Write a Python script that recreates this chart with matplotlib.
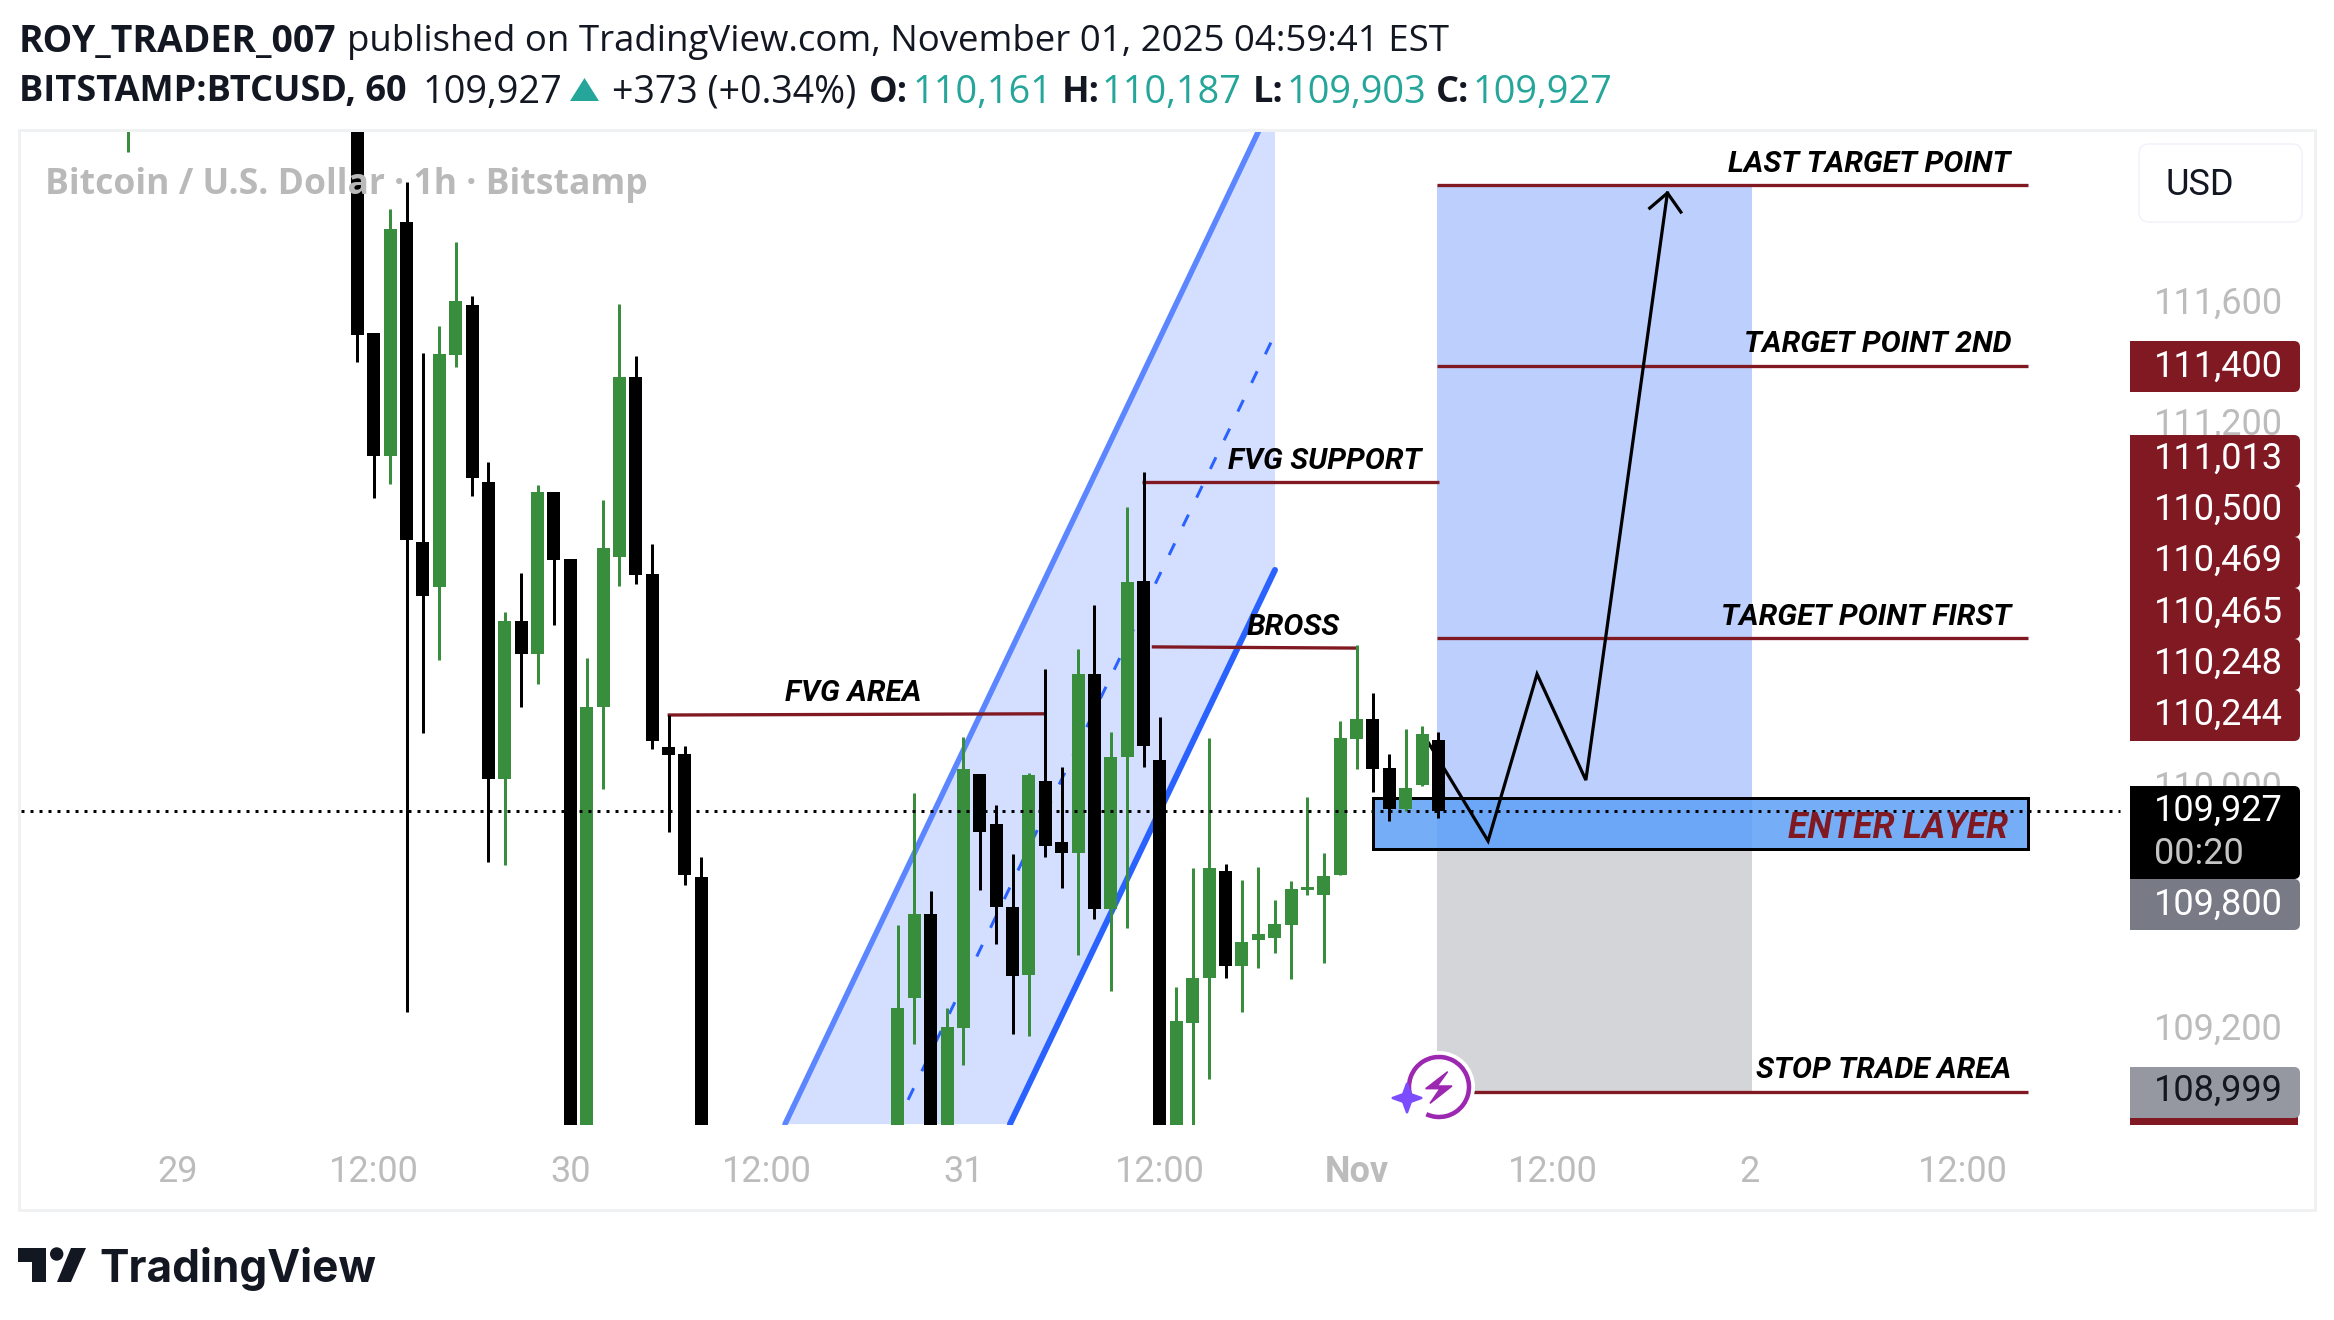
import matplotlib
matplotlib.use("Agg")
import matplotlib.pyplot as plt
from matplotlib.patches import Polygon, Rectangle, FancyBboxPatch, Circle, Arc
from matplotlib.transforms import ScaledTranslation

W, H = 2334, 1320
DPI = 100
GREEN = "#388e3c"
BLACK = "#000000"
RED = "#801922"
TEAL = "#26a69a"
INK = "#131722"
AXIS = "#bcbcbc"

# ---------- candles: hour offset from 30 Oct 00:00 ----------
hours = [-27, -13, -12, -11, -10, -9, -8, -7, -6, -5, -4, -3, -2, -1, 0, 1, 2, 3, 4, 5, 6, 7, 8,
         20, 21, 22, 23, 24, 25, 26, 27, 28, 29, 30, 31, 32, 33, 34, 35, 36, 37, 38, 39, 40, 41, 42,
         43, 44, 45, 46, 47, 48, 49, 50, 51, 52, 53]
opens = [112300, 112500, 111506, 111100, 111872, 110815, 110668, 111434, 111598, 111014, 110034, 110554,
         110444, 110981, 110759, 108650, 110270, 110767, 111360, 110710, 110138, 110115, 109709,
         108500, 109310, 109588, 108700, 109211, 110049, 109884, 109611, 109384, 110027, 109825, 109789,
         110379, 109602, 110106, 110687, 110096, 108700, 109228, 109374, 109729, 109416, 109502,
         109509, 109552, 109667, 109648, 109717, 110165, 110231, 110069, 109934, 110013, 110161]
highs = [112600, 112600, 111506, 111915, 112004, 111440, 111529, 111806, 111628, 111080, 110584, 110713,
         111004, 110981, 110759, 110433, 110954, 111601, 111430, 110809, 110244, 110142, 109775,
         109551, 109988, 109664, 109276, 110171, 110049, 109947, 109785, 110052, 110396, 110072, 110462,
         110607, 110188, 110931, 111047, 110237, 109346, 109739, 110168, 109753, 109699, 109742,
         109633, 109696, 109974, 109788, 110224, 110475, 110317, 110115, 110198, 110208, 110187]
lows = [112103, 111411, 110962, 111008, 109264, 110186, 110427, 111394, 110968, 109757, 109750, 110271,
        110348, 110542, 108500, 108550, 110001, 110671, 110678, 110133, 109856, 109684, 108500,
        108400, 109158, 108500, 108600, 109089, 109667, 109489, 109192, 109185, 109776, 109674, 109450,
        109571, 109331, 109539, 110071, 108500, 108600, 108700, 109043, 109374, 109262, 109410,
        109459, 109371, 109650, 109424, 109717, 110066, 109991, 109895, 109928, 110011, 109903]
closes = [112500, 111499, 111100, 111849, 110823, 110638, 111436, 111611, 111028, 110034, 110554, 110444,
          110981, 110757, 108600, 110270, 110796, 111360, 110707, 110159, 110113, 109717, 108600,
          109276, 109588, 108600, 109214, 110066, 109856, 109611, 109381, 110045, 109813, 109789, 110379,
          109602, 110105, 110683, 110143, 108600, 109233, 109375, 109739, 109416, 109494, 109521,
          109554, 109670, 109676, 109713, 110168, 110231, 110067, 109934, 110003, 110181, 109927]

last_price = 109927
last_line_end_h = 94.6

# ---------- channel (hour, price) ----------
upper_h = [13.11, 42.66]
upper_p = [108893, 112245]
lower_h = [26.84, 43.02]
lower_p = [108893, 110723]
mid_h = [20.62, 43.02]
mid_p = [108973, 111502]
fill_h = [13.11, 42.66, 43.02, 43.02, 26.84]
fill_p = [108893, 112245, 112245, 110723, 108893]

# ---------- long position ----------
pos_h = [52.9, 72.14]
target_last = 111995
target_2nd = 111397
target_first = 110497
stop_price = 108999
enter_top = 109970
enter_bottom = 109800
enter_h = [49.0, 88.98]
level_end_h = 89.0

# ---------- drawn levels ----------
fvg_area_h = [5.94, 29.0]
fvg_area_p = [110244, 110248]
bross_h = [35.5, 48.0]
bross_p = [110469, 110465]
fvg_support_h = [34.9, 53.06]
fvg_support_p = [111013, 111013]
stop_h = 55.1

# ---------- projected path ----------
path_h = [52.36, 56.03, 59.02, 62.0, 66.98]
path_p = [110155, 109828, 110379, 110029, 111968]
wing_h = [65.9, 66.98, 67.8]
wing_p = [111918, 111968, 111905]

# ---------- axis labels ----------
x_ticks = [-24, -12, 0, 12, 24, 36, 48, 60, 72, 85]
x_labels = ["29", "12:00", "30", "12:00", "31", "12:00", "Nov", "12:00", "2", "12:00"]
y_ticks = [111600, 111200, 110000, 109200]
y_labels = ["111,600", "111,200", "110,000", "109,200"]


def lw(px):
    return px * 72 / DPI


fig = plt.figure(figsize=(W / DPI, H / DPI), dpi=DPI, facecolor="white")

# Main pane spans pixels x 21..2130, y 130..1125
ax = fig.add_axes([21 / W, 1 - 1125 / H, (2130 - 21) / W, (1125 - 130) / H])
XLIM = ((21 - 570.3) / 16.38, (2130 - 570.3) / 16.38)
YLIM = (108890, 112176)
for s in ax.spines.values():
    s.set_visible(False)

ax.set_xticks(x_ticks)
ax.set_xticklabels(x_labels, family="Roboto", fontsize=26, color=AXIS)
ax.tick_params(axis="x", length=0, pad=21)
ax.get_xticklabels()[6].set_fontweight("bold")
ax.yaxis.tick_right()
ax.set_yticks(y_ticks)
ax.set_yticklabels(y_labels, family="Roboto", fontsize=26, color=AXIS)
ax.tick_params(axis="y", length=0, pad=17.2)
shift = ScaledTranslation(0, 5 / DPI, fig.dpi_scale_trans)
for lab in ax.get_yticklabels():
    lab.set_transform(lab.get_transform() + shift)

# position tool areas
ax.add_patch(Rectangle((pos_h[0], enter_bottom), pos_h[1] - pos_h[0], target_last - enter_bottom,
                       fc="#bdcffd", ec="none", zorder=1))
ax.add_patch(Rectangle((pos_h[0], stop_price), pos_h[1] - pos_h[0], enter_bottom - stop_price,
                       fc="#d4d5d9", ec="none", zorder=1))

# channel
ax.add_patch(Polygon(list(zip(fill_h, fill_p)), closed=True, fc="#2962ff", alpha=0.2, ec="none", zorder=1.5))
ax.plot(upper_h, upper_p, color="#5b86ff", lw=lw(5.5), zorder=2, solid_capstyle="round")
ax.plot(lower_h, lower_p, color="#2962ff", lw=lw(6), zorder=2, solid_capstyle="round")
ax.plot(mid_h, mid_p, color="#2962ff", lw=lw(3), ls=(0, (4.3, 6.3)), zorder=2)

# entry box
ax.add_patch(Rectangle((enter_h[0], enter_bottom), enter_h[1] - enter_h[0], enter_top - enter_bottom,
                       fc="#5e9ff6", alpha=0.85, ec="none", zorder=2.2))
ax.add_patch(Rectangle((enter_h[0], enter_bottom), enter_h[1] - enter_h[0], enter_top - enter_bottom,
                       fc="none", ec="black", lw=lw(3), zorder=2.3))

# levels
for hs, ps in [([pos_h[0], level_end_h], [target_last] * 2),
               ([pos_h[0], level_end_h], [target_2nd] * 2),
               ([pos_h[0], level_end_h], [target_first] * 2),
               ([stop_h, level_end_h], [stop_price] * 2),
               (fvg_area_h, fvg_area_p), (bross_h, bross_p), (fvg_support_h, fvg_support_p)]:
    ax.plot(hs, ps, color=RED, lw=lw(3.3), zorder=2.6, solid_capstyle="butt")

# path
ax.plot(path_h, path_p, color="black", lw=lw(3.2), zorder=2.7, solid_joinstyle="miter")
ax.plot(wing_h, wing_p, color="black", lw=lw(3.2), zorder=2.7)

# candles
for h, o, hi, lo, c in zip(hours, opens, highs, lows, closes):
    col = GREEN if c >= o else BLACK
    ax.vlines(h, lo, hi, color=col, lw=lw(3), zorder=4)
    ax.bar(h, abs(c - o), bottom=min(o, c), width=13 / 16.38, color=col, linewidth=0, zorder=4)

# last price line
ax.plot([XLIM[0], last_line_end_h], [last_price, last_price], color="black", lw=lw(3),
        ls=(0, (1, 2)), zorder=5)
ax.set_xlim(*XLIM)
ax.set_ylim(*YLIM)

# drawing labels
LBL = dict(family="Roboto", fontweight="bold", style="italic", color="black", zorder=6)
ax_ui = fig.add_axes([0, 0, 1, 1], facecolor="none", zorder=5)
ax_ui.set_xlim(0, W)
ax_ui.set_ylim(H, 0)
ax_ui.axis("off")

for txt, x, y, ha in [("LAST TARGET POINT", 2011, 164, "right"), ("TARGET POINT 2ND", 2011, 344, "right"),
                      ("TARGET POINT FIRST", 2011, 617, "right"), ("STOP TRADE AREA", 2011, 1070, "right"),
                      ("FVG SUPPORT", 1325, 461, "center"), ("BROSS", 1293, 627, "center"),
                      ("FVG AREA", 853, 693, "center")]:
    ax_ui.text(x, y, txt, fontsize=21.6, ha=ha, va="center", **LBL)
ax_ui.text(2008, 828, "ENTER LAYER", fontsize=25.7, ha="right", va="center",
           family="Roboto", fontweight="bold", style="italic", color=RED)

# watermark
ax_ui.text(45, 185, "Bitcoin / U.S. Dollar · 1h · Bitstamp", family="Open Sans", fontweight="bold",
           fontsize=25.6, color="#b9b9b9", va="center", ha="left")

# frame
ax_ui.add_patch(Rectangle((19, 130), 2315 - 19, 1210 - 130, fc="none", ec="#f0f1f3", lw=lw(3)))


# price tags
def tag(y0, y1, fc, label=None, tc="white", ty=None):
    ax_ui.add_patch(FancyBboxPatch((2133, y0 + 3), 2297 - 2133, y1 - y0 - 6,
                                   boxstyle="round,pad=3,rounding_size=6", fc=fc, ec="none"))
    ax_ui.add_patch(Rectangle((2130, y0), 30, y1 - y0, fc=fc, ec="none"))
    if label:
        ax_ui.text(2154, ty if ty else (y0 + y1) / 2, label, family="Roboto", fontsize=26, color=tc,
                   ha="left", va="center")


tag(341, 392, "#801922", "111,400")
stack = ["111,013", "110,500", "110,469", "110,465", "110,248", "110,244"]
for i, s in enumerate(stack):
    tag(435 + i * 51, 435 + (i + 1) * 51, "#801922", s, ty=459 + i * 51.1)
tag(879, 930, "#787b86", "109,800")
tag(786, 879, "#000000")
ax_ui.text(2154, 811, "109,927", family="Roboto", fontsize=26, color="white", va="center")
ax_ui.text(2154, 854, "00:20", family="Roboto", fontsize=26, color="#c4c4c4", va="center")
ax_ui.add_patch(Rectangle((2130, 1110), 167.5, 15, fc="#801922", ec="none"))
tag(1067, 1118, "#9598a1", "108,999", tc=INK, ty=1091)

# USD button
ax_ui.add_patch(FancyBboxPatch((2145, 150), 151, 66, boxstyle="round,pad=6,rounding_size=10",
                               fc="white", ec="#f0f3fa", lw=lw(1.5)))
ax_ui.text(2166, 185, "USD", family="Roboto", fontsize=26, color=INK, va="center")


# header text
def run(s, x, y, size, weight="normal", col=INK):
    ax_ui.text(x, y, s, family="Open Sans", fontsize=size, fontweight=weight, color=col,
               va="center_baseline", ha="left")


run("ROY_TRADER_007", 19, 37, 26.9, "bold")
run("published on TradingView.com, November 01, 2025 04:59:41 EST", 347, 37, 26.4)
run("BITSTAMP:BTCUSD, 60", 19, 88, 26, "bold")
run("109,927", 422.5, 88, 27.3)
ax_ui.add_patch(Polygon([(570, 101), (599, 101), (584.5, 78)], fc=TEAL, ec="none"))
run("+373 (+0.34%)", 611.5, 88, 27)
for lab, x_l, val, x_v in [("O:", 868.5, "110,161", 912.5), ("H:", 1062, "110,187", 1102),
                           ("L:", 1253, "109,903", 1287), ("C:", 1436, "109,927", 1473)]:
    run(lab, x_l, 88, 26, "bold")
    run(val, x_v, 88, 27.3, col=TEAL)

# TradingView logo
logo = INK
ax_ui.add_patch(Polygon([(18, 1248), (46, 1248), (46, 1282), (32, 1282), (32, 1262), (18, 1262)], fc=logo, ec="none"))
ax_ui.add_patch(Circle((56.7, 1254), 6.7, fc=logo, ec="none"))
ax_ui.add_patch(Polygon([(71, 1248), (86, 1248), (71, 1282), (57, 1282)], fc=logo, ec="none"))
ax_ui.text(99, 1282, "TradingView", family="Inter", fontweight="bold", fontsize=31.8, color=logo,
           ha="left", va="baseline")

# alert icon
ax_ui.add_patch(Circle((1439, 1087), 36, fc="white", ec="none"))
ax_ui.add_patch(Arc((1439, 1087), 60, 60, theta1=-200, theta2=115, color="#9c27b0", lw=lw(4.5)))
ax_ui.add_patch(Polygon([(1380 + a / 3, 1030 + b / 3) for a, b in
                         [(203, 125), (137, 176), (180, 176), (150, 220), (216, 168), (172, 168)]],
                        fc="#9c27b0", ec="#9c27b0", lw=lw(1.5)))
ax_ui.add_patch(Polygon([(1407, 1083), (1411, 1094), (1422, 1098), (1411, 1102), (1407, 1113),
                         (1403, 1102), (1392, 1098), (1403, 1094)], fc="#7c4dff", ec="#7c4dff", lw=lw(2)))

fig.savefig("out.png", dpi=DPI)
